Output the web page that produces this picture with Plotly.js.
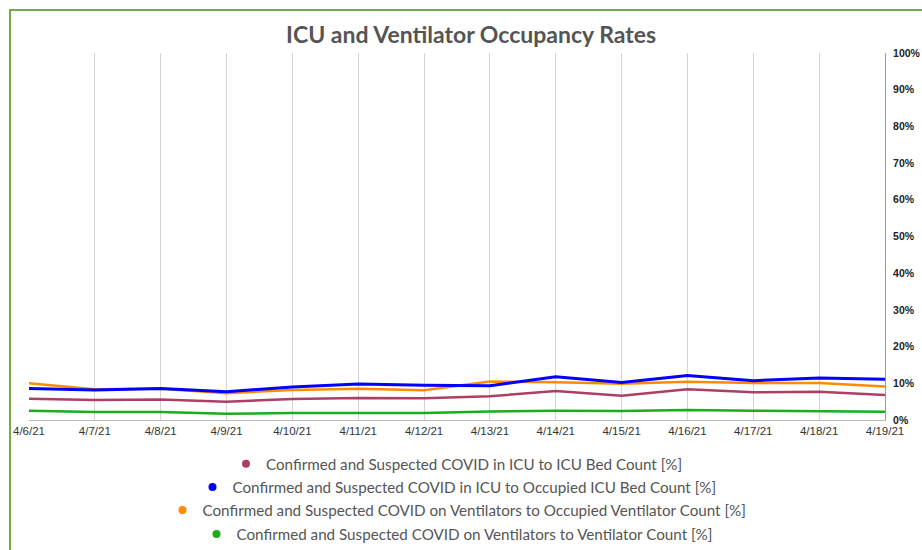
<!DOCTYPE html>
<html>
<head>
<meta charset="utf-8">
<script src="https://cdn.plot.ly/plotly-3.0.1.min.js"></script>
<style>
  html, body { margin: 0; padding: 0; background: #fff; }
  #wrap { position: relative; width: 922px; height: 550px; overflow: hidden; }
  #chart { width: 922px; height: 550px; }
  #frame { position: absolute; left: 9px; top: 9px; width: 940px; height: 600px;
           border-left: 2px solid #70ad47; border-top: 2px solid #70ad47; pointer-events: none; }
</style>
</head>
<body>
<div id="wrap">
  <div id="chart"></div>
  <div id="frame"></div>
</div>
<script>
const dates = ["4/6/21","4/7/21","4/8/21","4/9/21","4/10/21","4/11/21","4/12/21",
               "4/13/21","4/14/21","4/15/21","4/16/21","4/17/21","4/18/21","4/19/21"];

const icuToBed      = [5.8, 5.45, 5.6, 5.0, 5.7, 6.0, 5.9, 6.45, 7.9, 6.6, 8.35, 7.55, 7.7, 6.8];
const icuToOccupied = [8.6, 8.2, 8.6, 7.7, 9.0, 9.8, 9.45, 9.35, 11.8, 10.2, 12.1, 10.7, 11.45, 11.1];
const ventToOccupied= [10.0, 8.4, 8.5, 7.3, 8.2, 8.5, 8.1, 10.5, 10.3, 9.9, 10.45, 10.1, 10.1, 9.1];
const ventToCount   = [2.5, 2.2, 2.15, 1.7, 1.9, 1.9, 1.9, 2.35, 2.55, 2.45, 2.7, 2.55, 2.45, 2.25];

const names = [
  "Confirmed and Suspected COVID in ICU to ICU Bed Count [%]",
  "Confirmed and Suspected COVID in ICU to Occupied ICU Bed Count [%]",
  "Confirmed and Suspected COVID on Ventilators to Occupied Ventilator Count [%]",
  "Confirmed and Suspected COVID on Ventilators to Ventilator Count [%]"
];
const colors = ["#ad3e68", "#0000ff", "#ff8c00", "#1aae1a"];
const widths = [2.5, 3, 2.5, 2.5];
const series = [icuToBed, icuToOccupied, ventToOccupied, ventToCount];
const legendIds = ["legend", "legend2", "legend3", "legend4"];

const traces = [];
// draw order: green, purple, orange, blue on top
[3, 0, 2, 1].forEach(i => {
  traces.push({
    x: dates, y: series[i], type: "scatter", mode: "lines",
    line: { color: colors[i], width: widths[i] },
    showlegend: false, hoverinfo: "skip"
  });
});
series.forEach((s, i) => {
  traces.push({
    x: [null], y: [null], type: "scatter", mode: "markers",
    marker: { color: colors[i], size: 8 },
    name: names[i], legend: legendIds[i], showlegend: true
  });
});

const legendYs = [0.1564, 0.1145, 0.0727, 0.0291];
const legendFont = { family: "Lato, 'Open Sans', sans-serif", size: 15.2, color: "#555" };

const layout = {
  width: 922, height: 550,
  margin: { l: 29, r: 37, t: 53, b: 130 },
  paper_bgcolor: "#fff", plot_bgcolor: "#fff",
  title: {
    text: "ICU and Ventilator Occupancy Rates",
    font: { family: "Lato, 'Open Sans', sans-serif", size: 23, color: "#555", weight: "bold" },
    x: 0.511, xanchor: "center", y: 0.936, yanchor: "middle"
  },
  xaxis: {
    type: "category",
    range: [0, dates.length - 1],
    showgrid: true, gridcolor: "#d4d4d4", gridwidth: 1,
    showline: true, linecolor: "#bdbdbd", linewidth: 1,
    ticks: "", zeroline: false,
    tickfont: { family: "Arial, 'Liberation Sans', sans-serif", size: 11.5, color: "#333" }
  },
  yaxis: {
    side: "right", range: [0, 100],
    tickvals: [0,10,20,30,40,50,60,70,80,90,100],
    ticktext: ["0%","10%","20%","30%","40%","50%","60%","70%","80%","90%","100%"],
    showgrid: false, zeroline: false,
    showline: true, linecolor: "#9a9a9a", linewidth: 1,
    ticks: "outside", ticklen: 5, tickcolor: "rgba(0,0,0,0)",
    tickfont: { family: "Arial, 'Liberation Sans', sans-serif", size: 10.5, color: "#222", weight: "bold" }
  },
  hovermode: false
};
legendIds.forEach((id, i) => {
  layout[id] = {
    x: 0.5, xanchor: "center", xref: "paper",
    y: legendYs[i], yanchor: "middle", yref: "container",
    orientation: "h", font: legendFont, bgcolor: "rgba(0,0,0,0)",
    itemwidth: 30, tracegroupgap: 0
  };
});

Plotly.newPlot("chart", traces, layout, { displayModeBar: false, staticPlot: true });
</script>
</body>
</html>
